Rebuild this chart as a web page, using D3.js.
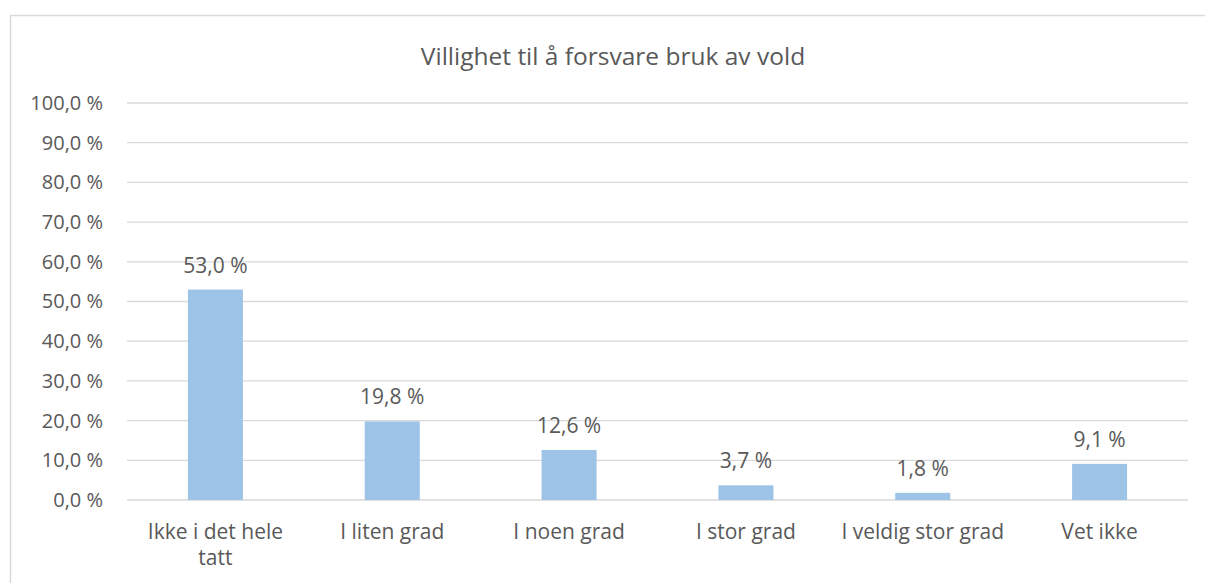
<!DOCTYPE html>
<html>
<head>
<meta charset="utf-8">
<script src="https://cdn.jsdelivr.net/npm/d3@7"></script>
<style>
  body { margin: 0; background: #fff; }
  text { font-family: "Open Sans", Lato, sans-serif; fill: #595959; }
</style>
</head>
<body>
<svg id="chart" width="1205" height="583"></svg>
<script>
const categories = ["Ikke i det hele tatt", "I liten grad", "I noen grad", "I stor grad", "I veldig stor grad", "Vet ikke"];
const values = [53.0, 19.8, 12.6, 3.7, 1.8, 9.1];
const yTicks = [0, 10, 20, 30, 40, 50, 60, 70, 80, 90, 100];
const title = "Villighet til å forsvare bruk av vold";

const width = 1205, height = 583;
const margin = { top: 103, right: 17, bottom: 83, left: 127 };

const svg = d3.select("#chart");

// chart frame (cut off at right and bottom in the original)
svg.append("rect")
  .attr("x", 10.5).attr("y", 15.5)
  .attr("width", width + 10).attr("height", height + 10)
  .attr("fill", "none").attr("stroke", "#d9d9d9").attr("stroke-width", 1.5);

const fmt = v => v.toFixed(1).replace(".", ",") + " %";

const x = d3.scaleBand()
  .domain(categories)
  .range([margin.left, width - margin.right])
  .paddingInner(0.689).paddingOuter(0.3445);

const y = d3.scaleLinear().domain([0, 100]).range([height - margin.bottom, margin.top]);

// gridlines
svg.append("g")
  .selectAll("line")
  .data(yTicks)
  .join("line")
  .attr("x1", margin.left).attr("x2", width - margin.right)
  .attr("y1", d => y(d)).attr("y2", d => y(d))
  .attr("stroke", "#d9d9d9").attr("stroke-width", 1.3);

// y labels
const yAxis = d3.axisLeft(y).tickValues(yTicks).tickFormat(fmt).tickSize(0).tickPadding(24);
const gy = svg.append("g").attr("transform", `translate(${margin.left},0)`).call(yAxis);
gy.select(".domain").remove();
gy.selectAll("text").style("font-size", "20px").style("font-family", "'Open Sans', sans-serif").attr("fill", "#595959");

// bars
svg.append("g")
  .selectAll("rect")
  .data(values)
  .join("rect")
  .attr("x", (d, i) => x(categories[i]))
  .attr("y", d => y(d))
  .attr("width", x.bandwidth())
  .attr("height", d => y(0) - y(d))
  .attr("fill", "#9dc3e6");

// value labels
svg.append("g")
  .selectAll("text")
  .data(values)
  .join("text")
  .attr("x", (d, i) => x(categories[i]) + x.bandwidth() / 2)
  .attr("y", d => y(d) - 17)
  .attr("text-anchor", "middle")
  .style("font-size", "21px")
  .text(fmt);

// category labels (wrapped like the original)
const cat = svg.append("g")
  .selectAll("text")
  .data(categories)
  .join("text")
  .attr("x", d => x(d) + x.bandwidth() / 2)
  .attr("y", y(0) + 39)
  .attr("text-anchor", "middle")
  .style("font-size", "21px");

cat.each(function (d) {
  const t = d3.select(this);
  const lines = d === "Ikke i det hele tatt" ? ["Ikke i det hele", "tatt"] : [d];
  lines.forEach((l, k) => {
    t.append("tspan")
      .attr("x", t.attr("x"))
      .attr("dy", k === 0 ? 0 : 26)
      .text(l);
  });
});

// title
svg.append("text")
  .attr("x", 613).attr("y", 65)
  .attr("text-anchor", "middle")
  .style("font-size", "24.5px")
  .text(title);
</script>
</body>
</html>
